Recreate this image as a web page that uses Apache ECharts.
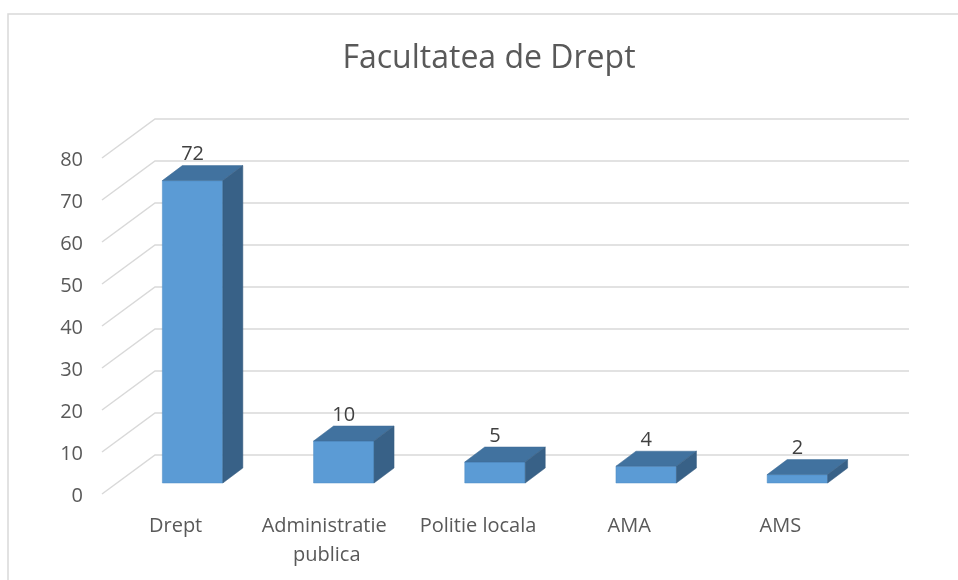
<!DOCTYPE html>
<html>
<head>
<meta charset="utf-8">
<script src="https://cdn.jsdelivr.net/npm/echarts@6/dist/echarts.min.js"></script>
<style>
  html, body { margin: 0; padding: 0; background: #fff; }
  #chart { width: 958px; height: 580px; }
</style>
</head>
<body>
<div id="chart"></div>
<script>
// date din grafic
const categories = ['Drept', 'Administratie publica', 'Politie locala', 'AMA', 'AMS'];
const values = [72, 10, 5, 4, 2];
const yTicks = [0, 10, 20, 30, 40, 50, 60, 70, 80];

const chart = echarts.init(document.getElementById('chart'));

// adancimea "peretelui" din spate si a barelor (efect 3D ca in Excel)
const WALL_DX = 53, WALL_DY = -39;
const BAR_DX = 17, BAR_DY = -13;
const DEPTH_DX = 20, DEPTH_DY = -15;

function renderGrid(params, api) {
    const cs = params.coordSys;
    const y = api.coord([0, api.value(0)])[1] - 2;
    const x0 = cs.x + 2;
    const style = { stroke: '#d9d9d9', lineWidth: 1.5, fill: null };
    return {
        type: 'group',
        children: [{
            type: 'polyline',
            shape: { points: [[x0, y], [x0 + WALL_DX, y + WALL_DY], [cs.x + cs.width + WALL_DX, y + WALL_DY]] },
            style: style
        }]
    };
}

function renderBar(params, api) {
    const top = api.coord([api.value(0), api.value(1)]);
    const base = api.coord([api.value(0), 0]);
    const half = api.size([1, 0])[0] * 0.2;
    const cx = top[0] + BAR_DX;
    const L = cx - half, R = cx + half;
    const T = top[1] + BAR_DY, B = base[1] + BAR_DY;
    return {
        type: 'group',
        children: [{
            type: 'rect',
            shape: { x: L, y: T, width: R - L, height: B - T },
            style: { fill: '#5b9bd5', stroke: '#4f8cc4', lineWidth: 0.5 }
        }, {
            type: 'polygon',
            shape: { points: [[L, T], [R, T], [R + DEPTH_DX, T + DEPTH_DY], [L + DEPTH_DX, T + DEPTH_DY]] },
            style: { fill: '#41729f', stroke: '#3d6a95', lineWidth: 0.5 }
        }, {
            type: 'polygon',
            shape: { points: [[R, T], [R + DEPTH_DX, T + DEPTH_DY], [R + DEPTH_DX, B + DEPTH_DY], [R, B]] },
            style: { fill: '#386187', stroke: '#345a7e', lineWidth: 0.5 }
        }, {
            type: 'text',
            style: {
                x: cx, y: T + DEPTH_DY - 11,
                text: String(api.value(1)),
                align: 'center', verticalAlign: 'middle',
                fill: '#404040', fontSize: 20, fontFamily: 'Open Sans'
            }
        }]
    };
}

const option = {
    backgroundColor: '#fff',
    animation: false,
    textStyle: { fontFamily: 'Open Sans' },
    graphic: [{
        type: 'rect',
        shape: { x: 8, y: 14, width: 1200, height: 1000 },
        style: { fill: null, stroke: '#d9d9d9', lineWidth: 1.5 },
        silent: true
    }, {
        type: 'text',
        x: 489, y: 59,
        style: {
            text: 'Facultatea de Drept',
            align: 'center', verticalAlign: 'middle',
            fill: '#595959', fontSize: 32, fontFamily: 'Open Sans'
        }
    }],
    grid: { left: 100, right: 102, top: 160, bottom: 84 },
    xAxis: {
        type: 'category',
        data: categories,
        axisLine: { show: false },
        axisTick: { show: false },
        axisLabel: {
            interval: 0, margin: 16, color: '#595959', fontSize: 20,
            lineHeight: 29, width: 150, overflow: 'break', verticalAlign: 'top'
        }
    },
    yAxis: {
        type: 'value',
        min: 0, max: 80, interval: 10,
        axisLine: { show: false },
        axisTick: { show: false },
        splitLine: { show: false },
        axisLabel: { margin: 17, color: '#595959', fontSize: 20 }
    },
    series: [{
        type: 'custom',
        renderItem: renderGrid,
        data: yTicks.map(v => [v]),
        encode: { y: 0 },
        z: 1,
        silent: true
    }, {
        type: 'custom',
        renderItem: renderBar,
        data: values.map((v, i) => [i, v]),
        encode: { x: 0, y: 1 },
        z: 2
    }]
};

chart.setOption(option);
</script>
</body>
</html>
